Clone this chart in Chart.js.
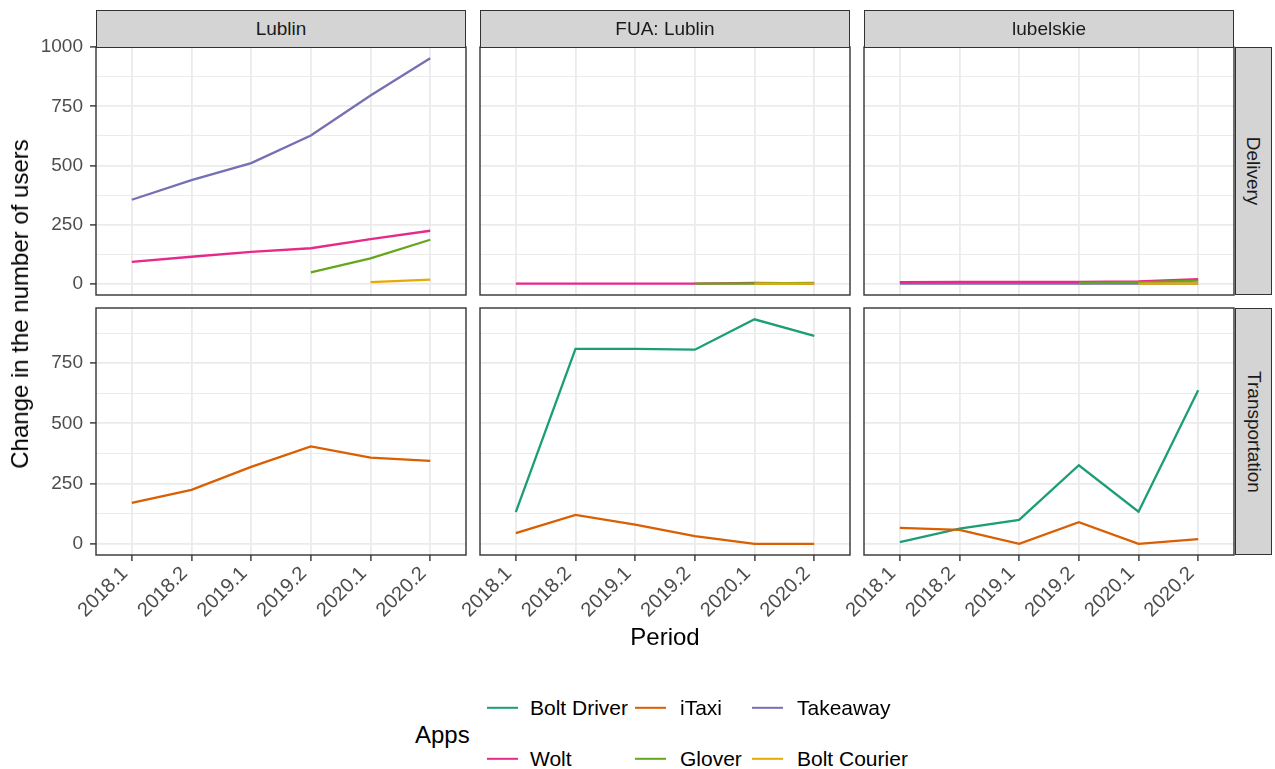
<!DOCTYPE html>
<html><head><meta charset="utf-8">
<script src="https://cdn.jsdelivr.net/npm/chart.js@4/dist/chart.umd.min.js"></script>
<style>
body{margin:0;background:#fff;}
#root{position:relative;width:1275px;height:769px;overflow:hidden;font-family:"Liberation Sans",Arial,sans-serif;background:#fff}
canvas{position:absolute}
.strip{position:absolute;background:#D4D4D4;border:1.4px solid #333;box-sizing:border-box;display:flex;align-items:center;justify-content:center;color:#1A1A1A;font-size:19px}
.rot90{display:inline-block;transform:rotate(90deg);white-space:nowrap}
.title{position:absolute;color:#000;font-size:24px;white-space:nowrap}
.lg{position:absolute;font-size:21px;color:#000;white-space:nowrap;transform:translateY(-50%)}
.key{position:absolute;height:2.4px;width:31px;transform:translateY(-50%)}
</style></head><body><div id="root"></div>
<script>
// ---------- data ----------
const periods = ['2018.1','2018.2','2019.1','2019.2','2020.1','2020.2'];
const regions = ['Lublin','FUA: Lublin','lubelskie'];
const sectors = ['Delivery','Transportation'];
const apps = ['Bolt Driver','iTaxi','Takeaway','Wolt','Glover','Bolt Courier'];
const appColors = ['#1B9E77','#D95F02','#7570B3','#E7298A','#66A61E','#E6AB02'];
const deliveryTicks = [0,125,250,375,500,625,750,875,1000];
const transportTicks = [0,125,250,375,500,625,750,875];
const yTickLabelValues = [0,250,500,750,1000];

// Lublin
const lublinDeliveryTakeaway = [355, 438, 510, 627, 796, 953];
const lublinDeliveryWolt     = [92, 114, 135, 150, 189, 224];
const lublinDeliveryGlover   = [null, null, null, 48, 107, 186];
const lublinDeliveryBoltCourier = [null, null, null, null, 7, 17];
const lublinTransportITaxi   = [170, 224, 319, 404, 358, 344];
// FUA: Lublin
const fuaDeliveryWolt        = [0, 0, 0, 0, 3, 1];
const fuaDeliveryGlover      = [null, null, null, 0, 1, 3];
const fuaDeliveryBoltCourier = [null, null, null, null, 0, 0];
const fuaTransportBoltDriver = [131, 809, 809, 806, 932, 863];
const fuaTransportITaxi      = [44, 120, 80, 32, 0, 0];
// lubelskie
const lubDeliveryTakeaway    = [1, 1, 1, 1, 1, 1];
const lubDeliveryWolt        = [7, 8, 8, 8, 10, 19];
const lubDeliveryGlover      = [null, null, null, 3, 6, 13];
const lubDeliveryBoltCourier = [null, null, null, null, 0, 1];
const lubTransportBoltDriver = [7, 63, 99, 326, 133, 637];
const lubTransportITaxi      = [66, 58, 0, 90, 0, 19];

// panel table: [row][col] -> list of [appIndex, values]
const panelSeries = [
  [
    [[2, lublinDeliveryTakeaway],[3, lublinDeliveryWolt],[4, lublinDeliveryGlover],[5, lublinDeliveryBoltCourier]],
    [[3, fuaDeliveryWolt],[4, fuaDeliveryGlover],[5, fuaDeliveryBoltCourier]],
    [[2, lubDeliveryTakeaway],[3, lubDeliveryWolt],[4, lubDeliveryGlover],[5, lubDeliveryBoltCourier]]
  ],
  [
    [[1, lublinTransportITaxi]],
    [[0, fuaTransportBoltDriver],[1, fuaTransportITaxi]],
    [[0, lubTransportBoltDriver],[1, lubTransportITaxi]]
  ]
];

// ---------- layout ----------
const FONT = '"Liberation Sans", Arial, sans-serif';
const colLeft = [96, 480, 864];
const panelW = 370;
const rowTop = [47, 308];
const panelH = [248, 247];
const rowYMin = [-47.7, -46.6];
const rowYMax = [1001, 979];
const rowTicks = [deliveryTicks, transportTicks];

const root = document.getElementById('root');

const panelPlugin = {
  id: 'panelBox',
  beforeDraw(chart) {
    const {ctx, chartArea: a} = chart;
    ctx.save(); ctx.fillStyle = '#fff';
    ctx.fillRect(a.left, a.top, a.right - a.left, a.bottom - a.top);
    ctx.restore();
  },
  afterDraw(chart) {
    const {ctx, chartArea: a} = chart;
    ctx.save(); ctx.strokeStyle = '#333333'; ctx.lineWidth = 1.4;
    ctx.strokeRect(a.left, a.top, a.right - a.left, a.bottom - a.top);
    ctx.restore();
  }
};

function isMajor(v) { return yTickLabelValues.includes(v); }
function zeroPad(a) { a.paddingLeft = 0; a.paddingRight = 0; a.paddingTop = 0; a.paddingBottom = 0; }

function makePanel(r, c) {
  const left = colLeft[c], top = rowTop[r], w = panelW, h = panelH[r];
  const yw = c === 0 ? left : 0;
  const xh = r === 1 ? 100 : 0;
  const padL = c === 0 ? 0 : 60;
  const padT = 14;
  const padB = r === 1 ? 0 : 1;
  const cv = document.createElement('canvas');
  const cw = padL + yw + w + 1, ch = padT + h + xh + padB;
  cv.width = cw; cv.height = ch;
  cv.style.width = cw + 'px'; cv.style.height = ch + 'px';
  cv.style.left = (left - yw - padL) + 'px';
  cv.style.top = (top - padT) + 'px';
  root.appendChild(cv);

  const series = panelSeries[r][c].slice().sort((a, b) => b[0] - a[0]);
  const datasets = series.map(([ai, vals]) => ({
    label: apps[ai],
    data: vals.map((v, i) => ({x: i, y: v})),
    borderColor: appColors[ai],
    backgroundColor: appColors[ai],
    borderWidth: 2.3,
    pointRadius: 0,
    tension: 0,
    spanGaps: false,
    fill: false
  }));

  new Chart(cv, {
    type: 'line',
    data: { datasets },
    options: {
      responsive: false, animation: false, events: [],
      devicePixelRatio: 1,
      layout: { padding: { left: padL, top: padT, right: 1, bottom: padB } },
      plugins: { legend: { display: false }, tooltip: { enabled: false } },
      scales: {
        x: {
          type: 'linear', min: -0.6, max: 5.6,
          afterBuildTicks: a => { a.ticks = periods.map((p, i) => ({value: i})); },
          afterFit: a => { a.height = xh; zeroPad(a); },
          ticks: {
            display: r === 1, autoSkip: false, minRotation: 45, maxRotation: 45,
            color: '#4D4D4D', font: { family: FONT, size: 20 }, padding: 1,
            labelOffset: -7,
            callback: v => periods[v]
          },
          grid: { color: '#EBEBEB', lineWidth: 1.8, drawTicks: r === 1, tickLength: 6,
                  tickColor: '#333333', tickWidth: 1.4 },
          border: { display: false }
        },
        y: {
          type: 'linear', min: rowYMin[r], max: rowYMax[r],
          afterBuildTicks: a => { a.ticks = rowTicks[r].map(v => ({value: v})); },
          afterFit: a => { a.width = yw; zeroPad(a); },
          ticks: {
            display: c === 0, autoSkip: false, color: '#4D4D4D',
            font: { family: FONT, size: 19 }, padding: 7,
            callback: v => isMajor(v) ? String(v) : ''
          },
          grid: {
            color: '#EBEBEB',
            lineWidth: ctx => (ctx.tick && isMajor(ctx.tick.value)) ? 1.8 : 1.0,
            drawTicks: c === 0, tickLength: 6, tickWidth: 1.4,
            tickColor: ctx => (ctx.tick && isMajor(ctx.tick.value)) ? '#333333' : 'rgba(0,0,0,0)'
          },
          border: { display: false }
        }
      }
    },
    plugins: [panelPlugin]
  });
}

for (let r = 0; r < 2; r++) for (let c = 0; c < 3; c++) makePanel(r, c);

// strips
regions.forEach((name, c) => {
  const d = document.createElement('div');
  d.className = 'strip';
  d.style.left = colLeft[c] + 'px'; d.style.top = '10px';
  d.style.width = panelW + 'px'; d.style.height = '38px';
  d.textContent = name;
  root.appendChild(d);
});
sectors.forEach((name, r) => {
  const d = document.createElement('div');
  d.className = 'strip';
  d.style.left = '1235px'; d.style.top = rowTop[r] + 'px';
  d.style.width = '37px'; d.style.height = panelH[r] + 'px';
  const s = document.createElement('span'); s.className = 'rot90'; s.textContent = name;
  d.appendChild(s);
  root.appendChild(d);
});

// axis titles
const yt = document.createElement('div');
yt.className = 'title'; yt.textContent = 'Change in the number of users';
yt.style.left = '20px'; yt.style.top = '304px';
yt.style.transform = 'translate(-50%,-50%) rotate(-90deg)';
root.appendChild(yt);
const xt = document.createElement('div');
xt.className = 'title'; xt.textContent = 'Period';
xt.style.left = '665px'; xt.style.top = '637px';
xt.style.transform = 'translate(-50%,-50%)';
root.appendChild(xt);

// legend
const lt = document.createElement('div');
lt.className = 'title'; lt.textContent = 'Apps';
lt.style.left = '415px'; lt.style.top = '735px'; lt.style.transform = 'translateY(-50%)';
root.appendChild(lt);
const keyX = [487, 635, 752], textX = [530, 680, 797], rowY = [708, 759];
apps.forEach((name, i) => {
  const rr = Math.floor(i / 3), cc = i % 3;
  const k = document.createElement('div');
  k.className = 'key'; k.style.background = appColors[i];
  k.style.left = keyX[cc] + 'px'; k.style.top = rowY[rr] + 'px';
  root.appendChild(k);
  const t = document.createElement('div');
  t.className = 'lg'; t.textContent = name;
  t.style.left = textX[cc] + 'px'; t.style.top = rowY[rr] + 'px';
  root.appendChild(t);
});
</script></body></html>
